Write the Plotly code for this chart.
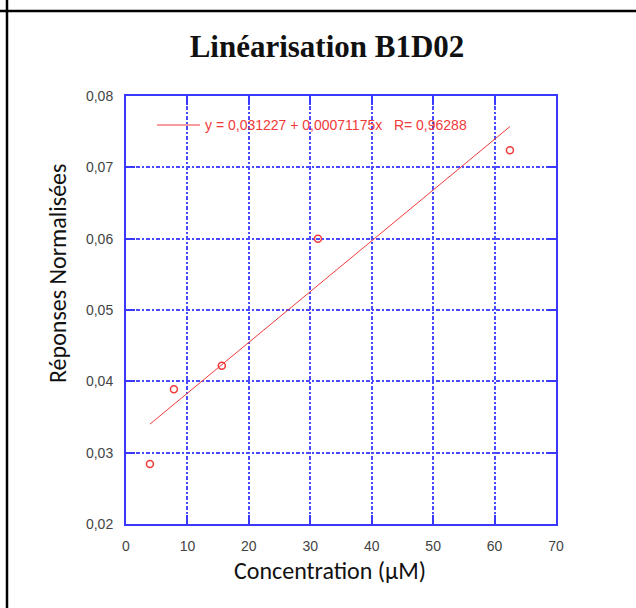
import plotly.graph_objects as go

# Data
concentration = [3.9, 7.8, 15.6, 31.25, 62.5]
reponses = [0.0284, 0.0389, 0.0422, 0.0600, 0.0724]
intercept = 0.031227
slope = 0.00071175
fit_label = "y = 0,031227 + 0,00071175x   R= 0,96288"
x_ticks = [0, 10, 20, 30, 40, 50, 60, 70]
y_ticks = [0.02, 0.03, 0.04, 0.05, 0.06, 0.07, 0.08]

fit_x = [min(concentration), max(concentration)]
fit_y = [intercept + slope * v for v in fit_x]

BLUE = "#3838ff"
GRID = "#4a4aff"
RED = "#f03a3a"

fig = go.Figure()
fig.add_trace(go.Scatter(
    x=fit_x, y=fit_y, mode="lines", name=fit_label,
    line=dict(color=RED, width=1), showlegend=False,
))
fig.add_trace(go.Scatter(
    x=concentration, y=reponses, mode="markers", showlegend=False,
    marker=dict(symbol="circle-open", size=7, color=RED, line=dict(width=1.5, color=RED)),
))

L, R, T, B = 126, 80, 96, 84
W, H = 636, 608
pw, ph = W - L - R, H - T - B

def px(xp):
    return (xp - L) / pw

def py(yp):
    return (H - B - yp) / ph

axis_common = dict(
    showline=True, linecolor=BLUE, linewidth=2, mirror="ticks",
    ticks="inside", ticklen=9, tickcolor=BLUE, tickwidth=2,
    showgrid=True, gridcolor=GRID, gridwidth=1.5, griddash="4px,2px,2px,2px",
    zeroline=False,
    tickfont=dict(family="Liberation Sans, Arial", size=14, color="#444444"),
)

title_font = dict(family="Carlito, Lato, Liberation Sans", size=24, color="#111111")

fig.update_xaxes(
    range=[0, 70], tickvals=x_ticks, ticktext=[str(v) for v in x_ticks],
    ticklabelstandoff=8,
    **axis_common,
)
fig.update_yaxes(
    range=[0.02, 0.08], tickvals=y_ticks, ticktext=[f"{v:.2f}".replace(".", ",") for v in y_ticks],
    ticklabelstandoff=8,
    **axis_common,
)

fig.update_layout(
    width=W, height=H,
    margin=dict(l=L, r=R, t=T, b=B),
    paper_bgcolor="white", plot_bgcolor="white",
    showlegend=False,
    title=dict(
        text="<b>Linéarisation B1D02</b>",
        font=dict(family="Liberation Serif, Times New Roman", size=31, color="#111111"),
        x=327 / W, xanchor="center", y=1 - 46 / H, yanchor="middle", yref="container",
    ),
    annotations=[
        dict(text=fit_label, xref="paper", yref="paper", x=px(203), y=py(125),
             xanchor="left", yanchor="middle", showarrow=False,
             font=dict(family="Liberation Sans, Arial", size=14, color=RED)),
        dict(text="Concentration (µM)", xref="paper", yref="paper", x=px(330), y=py(570),
             xanchor="center", yanchor="middle", showarrow=False, font=title_font),
        dict(text="Réponses Normalisées", xref="paper", yref="paper", x=px(57), y=py(274),
             xanchor="center", yanchor="middle", showarrow=False, textangle=-90, font=title_font),
    ],
    shapes=[
        dict(type="line", xref="paper", yref="paper",
             x0=px(157), x1=px(200), y0=py(125), y1=py(125),
             line=dict(color=RED, width=1)),
        dict(type="line", xref="paper", yref="paper",
             x0=px(7), x1=px(7), y0=py(0), y1=py(H),
             line=dict(color="black", width=2.5)),
        dict(type="line", xref="paper", yref="paper",
             x0=px(0), x1=px(W), y0=py(11), y1=py(11),
             line=dict(color="black", width=2.5)),
    ],
)

fig.write_html("out.html", config={"displayModeBar": False},
               post_script="document.body.style.margin='0';")
